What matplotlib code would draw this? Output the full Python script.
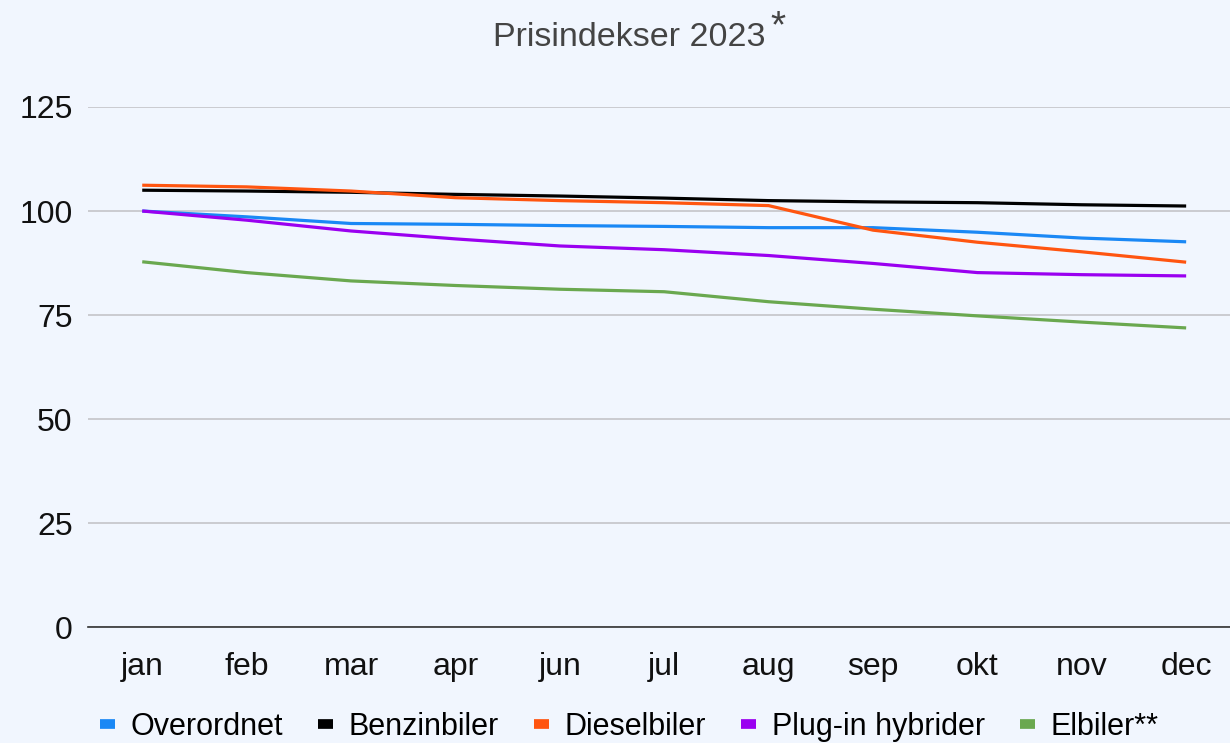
import matplotlib
matplotlib.use("Agg")
import matplotlib.pyplot as plt
from matplotlib.lines import Line2D

plt.rcParams['font.family'] = ['Liberation Sans', 'DejaVu Sans']

# months (no "mai" in the source chart)
months = ['jan', 'feb', 'mar', 'apr', 'jun', 'jul', 'aug', 'sep', 'okt', 'nov', 'dec']

overordnet = [100.0, 98.6, 97.0, 96.8, 96.5, 96.3, 96.0, 96.0, 94.9, 93.5, 92.6]
benzinbiler = [105.0, 104.8, 104.5, 104.0, 103.6, 103.1, 102.5, 102.2, 102.0, 101.5, 101.2]
dieselbiler = [106.2, 105.8, 104.8, 103.2, 102.5, 102.0, 101.3, 95.4, 92.5, 90.2, 87.7]
plugin = [100.0, 97.8, 95.2, 93.3, 91.6, 90.7, 89.3, 87.4, 85.2, 84.7, 84.4]
elbiler = [87.8, 85.2, 83.2, 82.1, 81.2, 80.6, 78.2, 76.4, 74.8, 73.3, 71.9]

series = [
    ('Overordnet', overordnet, '#1a88f5'),
    ('Benzinbiler', benzinbiler, '#000000'),
    ('Dieselbiler', dieselbiler, '#ff5510'),
    ('Plug-in hybrider', plugin, '#9a00f0'),
    ('Elbiler**', elbiler, '#6aa84f'),
]

bg = '#f1f6fe'
fig = plt.figure(figsize=(12.3, 7.43), dpi=100, facecolor=bg)
ax = fig.add_axes([0.0715, 0.156, 0.9285, 0.7])
ax.set_facecolor(bg)

x = list(range(len(months)))
for name, vals, col in series:
    ax.plot(x, vals, color=col, lw=2.3, solid_capstyle='butt')

ax.set_ylim(0, 125)
ax.set_xlim(-0.52, 10.42)
ax.set_yticks([0, 25, 50, 75, 100, 125])
ax.set_xticks(x)
ax.set_xticklabels(months)
ax.grid(axis='y', color='#c4c4c8', lw=1.2)
ax.set_axisbelow(True)
for s in ['top', 'right', 'left']:
    ax.spines[s].set_visible(False)
ax.spines['bottom'].set_color('#333333')
ax.spines['bottom'].set_linewidth(1.2)
ax.tick_params(axis='both', length=0, labelsize=23, colors='#111111')
ax.tick_params(axis='x', pad=18)
ax.tick_params(axis='y', pad=11)

fig.text(629 / 1230, 1 - 37 / 743, 'Prisindekser 2023', ha='center', va='center',
         fontsize=24.5, color='#444444')
fig.text(778 / 1230, 1 - 27 / 743, '*', ha='center', va='center',
         fontsize=28, color='#444444')

handles = [Line2D([0], [0], color=col, lw=7, solid_capstyle='butt') for _, _, col in series]
labels = [name for name, _, _ in series]
fig.legend(handles, labels, loc='center', bbox_to_anchor=(629 / 1230, 1 - 727 / 743),
           ncol=5, frameon=False, fontsize=22, handlelength=0.5, handletextpad=0.5,
           columnspacing=1.15)

fig.savefig('out.png', dpi=100, facecolor=bg)
